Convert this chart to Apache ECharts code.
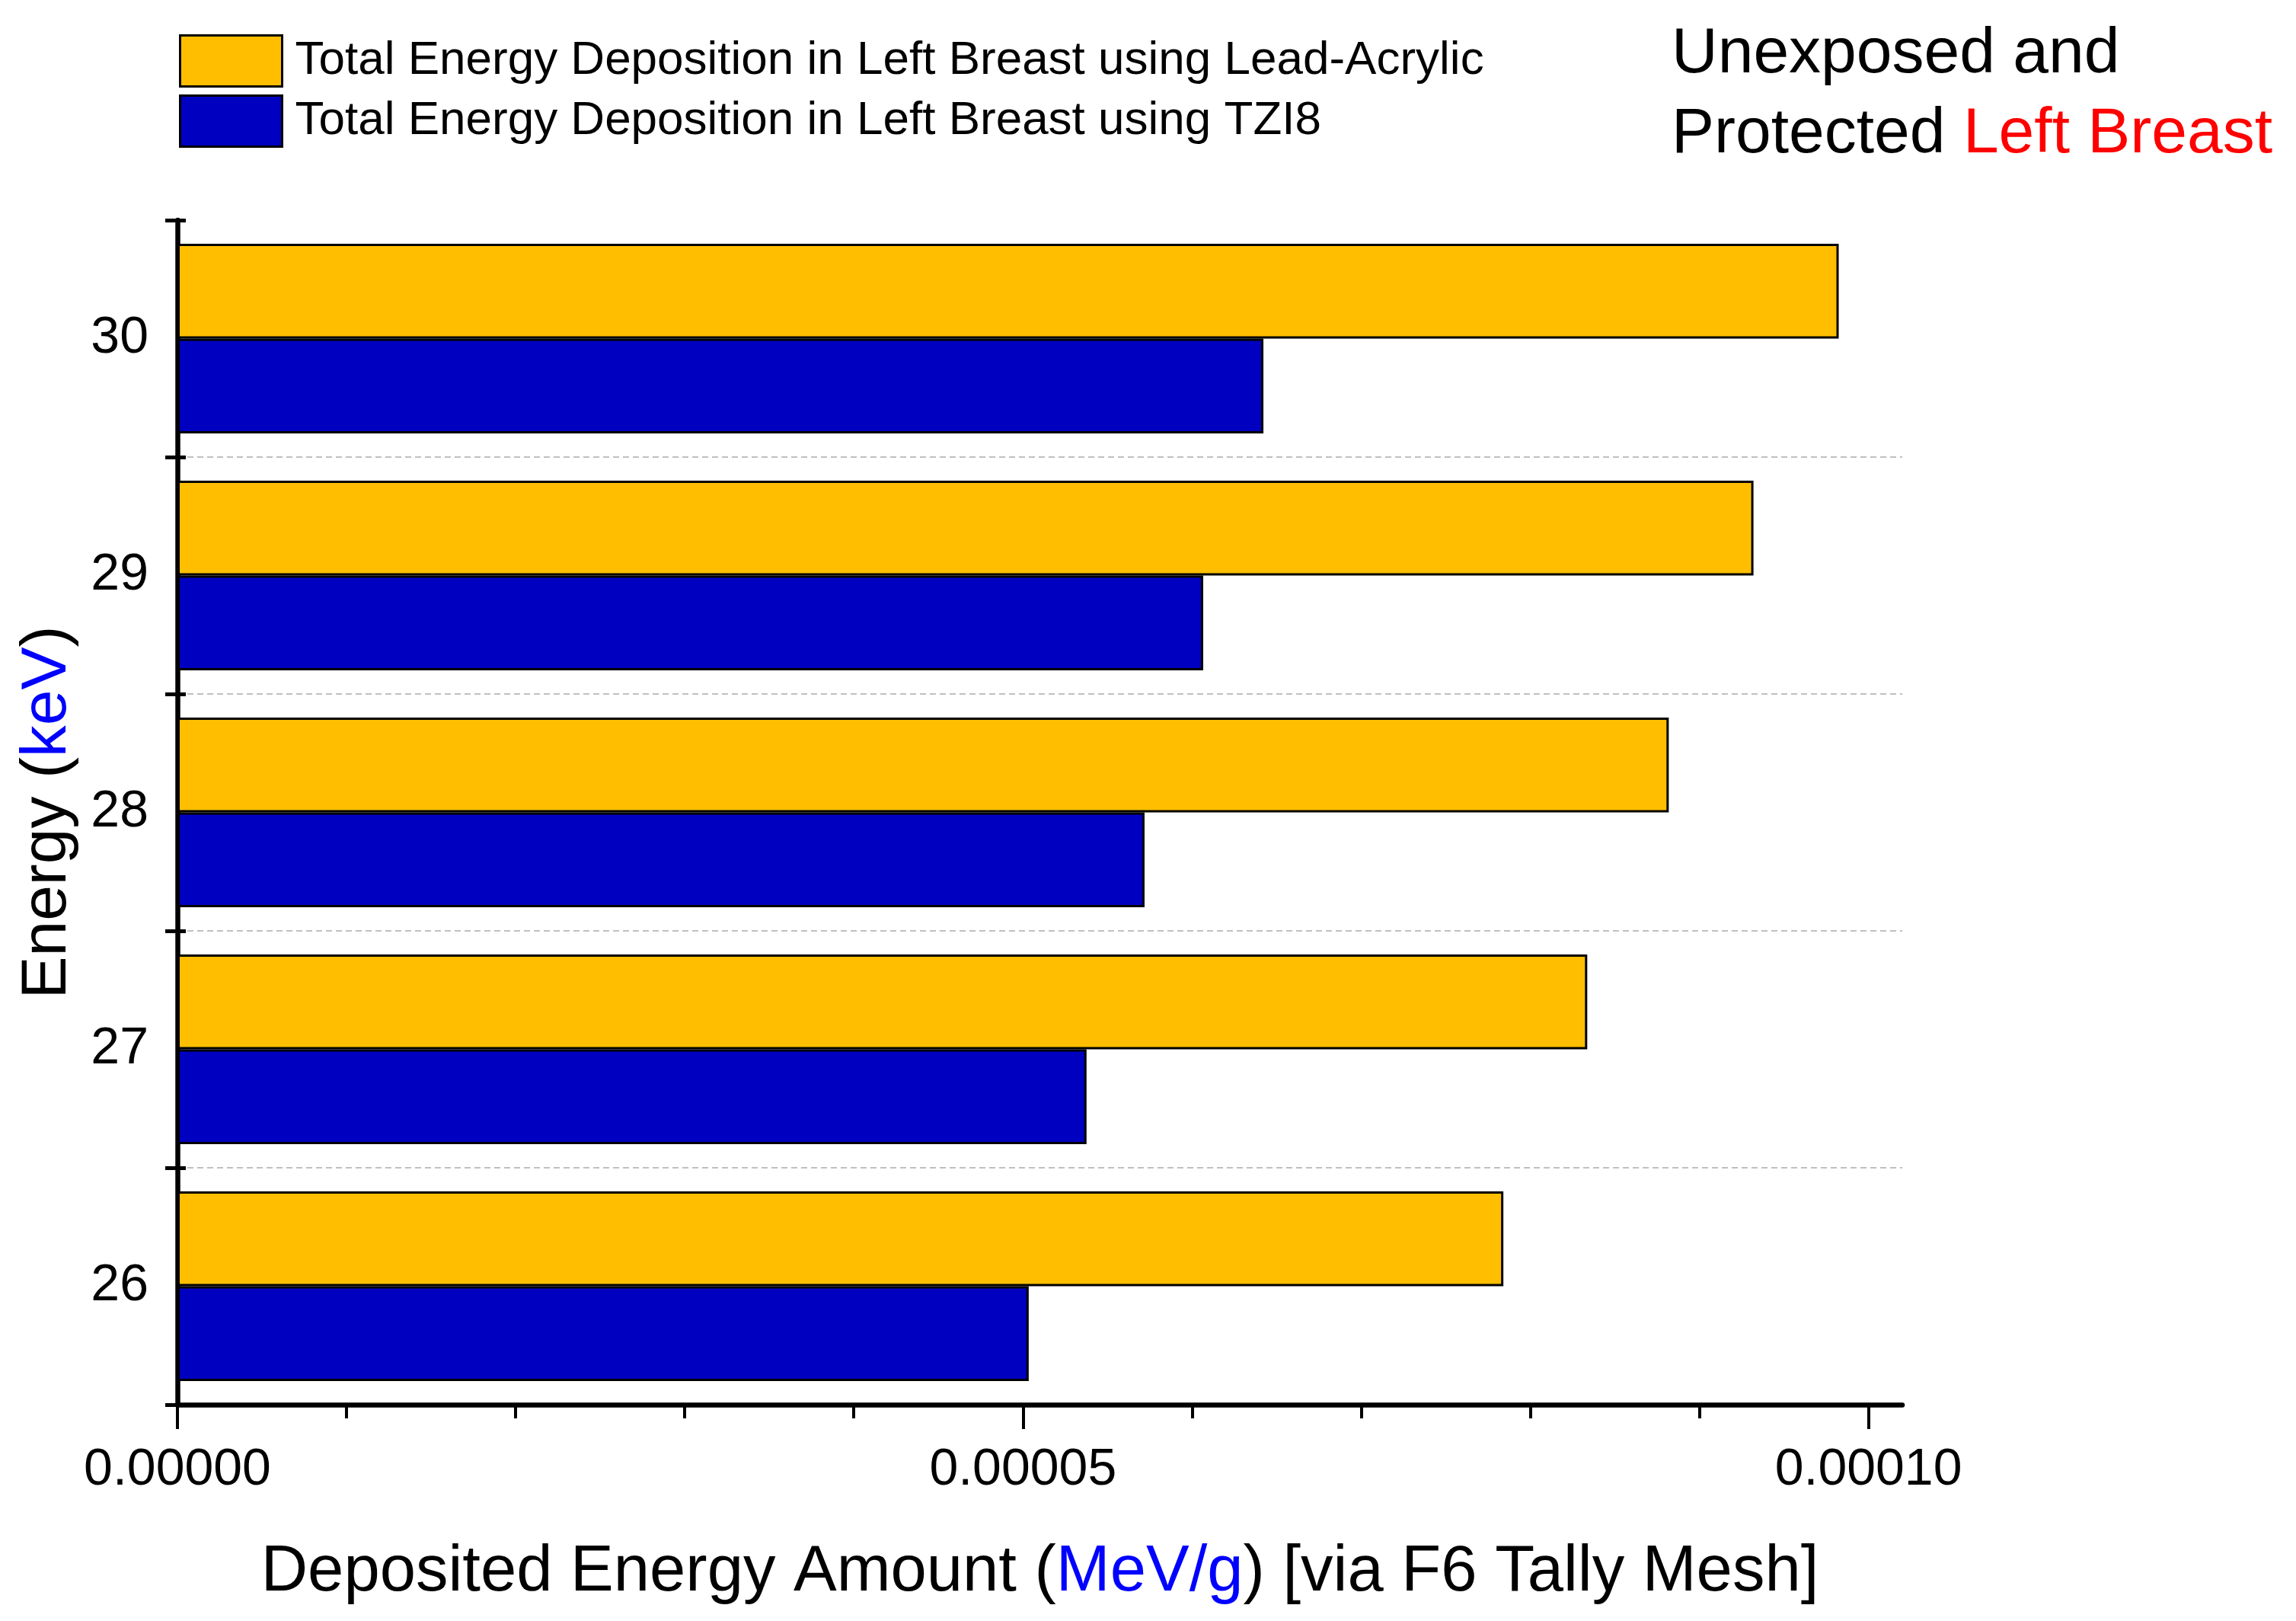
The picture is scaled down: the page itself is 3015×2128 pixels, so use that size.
<!DOCTYPE html>
<html>
<head>
<meta charset="utf-8">
<script src="https://cdn.jsdelivr.net/npm/echarts@6/dist/echarts.min.js"></script>
<style>
html,body{margin:0;padding:0;background:#fff;}
#chart{width:3015px;height:2128px;}
</style>
</head>
<body>
<div id="chart"></div>
<script>
var categories = ['26', '27', '28', '29', '30'];
var leadAcrylic = [7.841e-5, 8.337e-5, 8.819e-5, 9.32e-5, 9.824e-5];
var tzi8 = [5.034e-5, 5.376e-5, 5.719e-5, 6.066e-5, 6.422e-5];
var seriesNames = ['Total Energy Deposition in Left Breast using Lead-Acrylic', 'Total Energy Deposition in Left Breast using TZI8'];
var majorTicks = [0, 0.00005, 0.0001];
var minorTicks = [0.00001, 0.00002, 0.00003, 0.00004, 0.00006, 0.00007, 0.00008, 0.00009];

var FONT = 'Liberation Sans';
var chart = echarts.init(document.getElementById('chart'));
var option = {
  backgroundColor: '#ffffff',
  textStyle: { fontFamily: FONT },
  title: {
    left: 2190, top: 14,
    text: '{b|Unexposed and}\n{b|Protected }{r|Left Breast}',
    textStyle: {
      fontWeight: 'normal',
      rich: {
        b: { fontFamily: FONT, fontSize: 84, fontWeight: 'normal', color: '#000', lineHeight: 105 },
        r: { fontFamily: FONT, fontSize: 84, fontWeight: 'normal', color: '#ff0000', lineHeight: 105 }
      }
    }
  },
  legend: {
    orient: 'vertical', left: 230, top: 40,
    itemWidth: 134, itemHeight: 67, itemGap: 9,
    icon: 'rect',
    data: seriesNames,
    itemStyle: { borderColor: '#000', borderWidth: 3 },
    textStyle: { fontFamily: FONT, fontSize: 62, color: '#000', padding: [0, 0, 0, 12] }
  },
  grid: { left: 233, right: 517, top: 289, bottom: 284 },
  xAxis: [{
    type: 'value', min: 0, max: 0.000102,
    position: 'bottom',
    axisLine: { show: true, onZero: false, lineStyle: { color: '#000', width: 6.5 } },
    axisTick: { show: true, customValues: majorTicks, length: 32, lineStyle: { color: '#000', width: 4 } },
    axisLabel: { customValues: majorTicks, margin: 52, fontFamily: FONT, fontSize: 68, color: '#000',
      formatter: function (v) { return v.toFixed(5); } },
    splitLine: { show: false },
    name: '{a|Deposited Energy Amount (}{b|MeV/g}{a|) [via F6 Tally Mesh]}',
    nameLocation: 'middle', nameGap: 178,
    nameTextStyle: {
      rich: {
        a: { fontFamily: FONT, fontSize: 85, color: '#000' },
        b: { fontFamily: FONT, fontSize: 85, color: '#0000ff' }
      }
    }
  }, {
    type: 'value', min: 0, max: 0.000102,
    position: 'bottom',
    axisLine: { show: false },
    axisTick: { show: true, customValues: minorTicks, length: 18, lineStyle: { color: '#000', width: 4 } },
    axisLabel: { show: false },
    splitLine: { show: false }
  }],
  yAxis: [{
    type: 'category', data: categories,
    position: 'left',
    axisLine: { show: true, lineStyle: { color: '#000', width: 6.5 } },
    axisTick: { show: true, length: 16, lineStyle: { color: '#000', width: 5 } },
    axisLabel: { margin: 38, fontFamily: FONT, fontSize: 68, color: '#000' },
    splitLine: { show: true, showMaxLine: false, showMinLine: false,
      lineStyle: { color: '#c0c0c0', width: 2, type: [8, 5] } },
    name: '{a|Energy (}{b|keV}{a|)}',
    nameLocation: 'middle', nameGap: 128,
    nameTextStyle: {
      rich: {
        a: { fontFamily: FONT, fontSize: 84, color: '#000' },
        b: { fontFamily: FONT, fontSize: 84, color: '#0000ff' }
      }
    }
  }, {
    type: 'category', data: categories,
    position: 'left',
    axisLine: { show: false },
    axisTick: { show: true, inside: true, length: 11, lineStyle: { color: '#000', width: 5 } },
    axisLabel: { show: false },
    splitLine: { show: false }
  }],
  series: [{
    name: seriesNames[0], type: 'bar', data: leadAcrylic,
    barCategoryGap: '20%', barGap: '0%',
    itemStyle: { color: '#ffbf00', borderColor: '#000', borderWidth: 3 }
  }, {
    name: seriesNames[1], type: 'bar', data: tzi8,
    barCategoryGap: '20%', barGap: '0%',
    itemStyle: { color: '#0000c0', borderColor: '#000', borderWidth: 3 }
  }]
};
chart.setOption(option);
</script>
</body>
</html>
